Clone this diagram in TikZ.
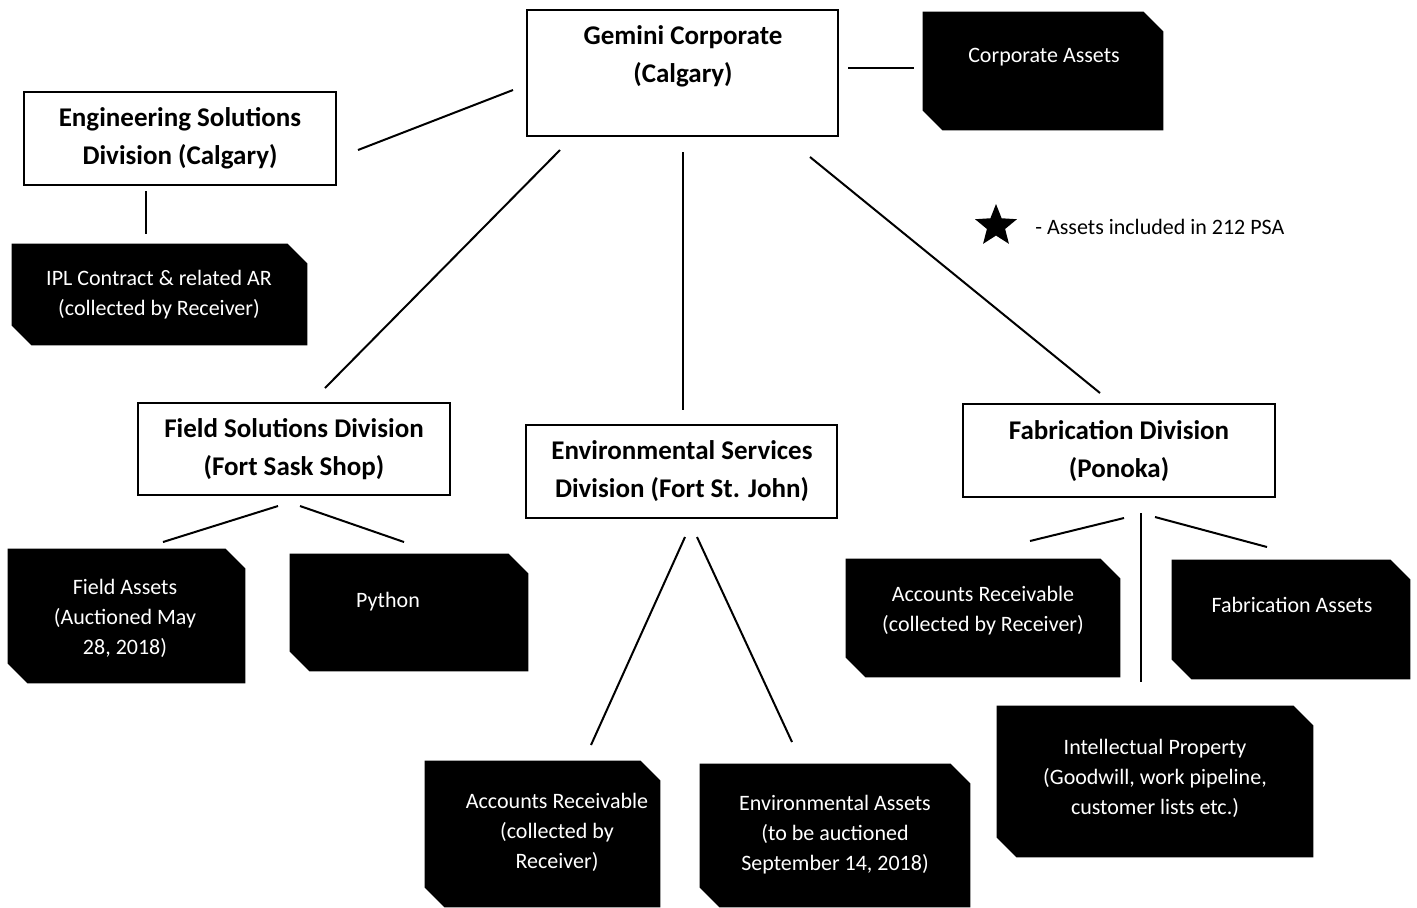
\documentclass[tikz,border=0pt]{standalone}
\usepackage{fontspec}
\setmainfont{Carlito}
\usetikzlibrary{shapes.geometric}
\newcommand\snipfill[1]{\fill[black] (#1.north west) -- ([xshift=-10pt]#1.north east) -- ([yshift=-10pt]#1.north east) -- (#1.south east) -- ([xshift=10pt]#1.south west) -- ([yshift=10pt]#1.south west) -- cycle;}
\begin{document}
\begin{tikzpicture}[x=0.5pt,y=-0.5pt,
  wbox/.style={draw=black, line width=1pt, fill=white, inner sep=0pt},
  bbox/.style={rectangle, draw=none, inner sep=0pt},
  wtext/.style={font=\bfseries\fontsize{13.5}{19}\selectfont, align=center, inner sep=0pt},
  btext/.style={text=white, font=\fontsize{11}{15}\selectfont, align=center, inner sep=0pt},
  conn/.style={line width=1pt, draw=black}]
\useasboundingbox (0,0) rectangle (1417,907);
% white boxes
\node[wbox, minimum width=155.5pt, minimum height=63pt] (gc) at (682.5,73) {};
\node[wtext] (gct) at (683,56) {Gemini Corporate\\(Calgary)};
\node[wbox, minimum width=156pt, minimum height=46.5pt] (eng) at (180,138.5) {};
\node[wtext] (engt) at (180,138) {Engineering Solutions\\Division (Calgary)};
\node[wbox, minimum width=156pt, minimum height=46pt] (fsd) at (294,449) {};
\node[wtext] (fsdt) at (294,449) {Field Solutions Division\\(Fort Sask Shop)};
\node[wbox, minimum width=155.5pt, minimum height=46.5pt] (esd) at (681.5,471.5) {};
\node[wtext] (esdt) at (682,471) {Environmental Services\\Division (Fort St. John)};
\node[wbox, minimum width=156pt, minimum height=46.5pt] (fab) at (1119,450.5) {};
\node[wtext] (fabt) at (1119,451) {Fabrication Division\\(Ponoka)};
% black boxes
\node[bbox, minimum width=120pt, minimum height=59pt] (ca) at (1043,71) {};
\snipfill{ca}
\node[btext] (cat) at (1044,57) {Corporate Assets};
\node[bbox, minimum width=147.5pt, minimum height=50.5pt] (ipl) at (159.5,294.5) {};
\snipfill{ipl}
\node[btext] (iplt) at (159,295) {IPL Contract \& related AR\\(collected by Receiver)};
\node[bbox, minimum width=118.5pt, minimum height=67pt] (fa) at (126.5,616) {};
\snipfill{fa}
\node[btext] (fat) at (125,618) {Field Assets\\(Auctioned May\\28, 2018)};
\node[bbox, minimum width=119pt, minimum height=58.5pt] (py) at (409,612.5) {};
\snipfill{py}
\node[btext] (pyt) at (388,602) {Python};
\node[bbox, minimum width=117.5pt, minimum height=73pt] (ar1) at (542.5,834) {};
\snipfill{ar1}
\node[btext] (ar1t) at (557,832) {Accounts Receivable\\(collected by\\Receiver)};
\node[bbox, minimum width=135pt, minimum height=71.5pt] (ea) at (835,835.5) {};
\snipfill{ea}
\node[btext] (eat) at (835,835) {Environmental Assets\\(to be auctioned\\September 14, 2018)};
\node[bbox, minimum width=137pt, minimum height=59pt] (ar2) at (983,618) {};
\snipfill{ar2}
\node[btext] (ar2t) at (983,611) {Accounts Receivable\\(collected by Receiver)};
\node[bbox, minimum width=119pt, minimum height=59.5pt] (fas) at (1291,619.5) {};
\snipfill{fas}
\node[btext] (fast) at (1292,605) {Fabrication Assets};
\node[bbox, minimum width=158pt, minimum height=75.5pt] (ip) at (1155,781.5) {};
\snipfill{ip}
\node[btext] (ipt) at (1155,778) {Intellectual Property\\(Goodwill, work pipeline,\\customer lists etc.)};
% legend
\node[star, star points=5, star point ratio=2.3, fill=black, inner sep=0pt, minimum size=22pt] (star) at (996,226) {};
\node[font=\fontsize{11}{13}\selectfont, anchor=west, inner sep=0pt] (leg) at (1035,227) {- Assets included in 212 PSA};
% connector end points
\coordinate (c1a) at (848,68);  \coordinate (c1b) at (914,68);
\coordinate (c2a) at (513,90);  \coordinate (c2b) at (358,150);
\coordinate (c3a) at (146,191); \coordinate (c3b) at (146,234);
\coordinate (c4a) at (560,150); \coordinate (c4b) at (325,388);
\coordinate (c5a) at (683,152); \coordinate (c5b) at (683,410);
\coordinate (c6a) at (810,157); \coordinate (c6b) at (1100,393);
\coordinate (c7a) at (278,506); \coordinate (c7b) at (163,542);
\coordinate (c8a) at (300,506); \coordinate (c8b) at (404,542);
\coordinate (c9a) at (685,537); \coordinate (c9b) at (591,745);
\coordinate (c10a) at (697,537); \coordinate (c10b) at (792,742);
\coordinate (c11a) at (1124,518); \coordinate (c11b) at (1030,541);
\coordinate (c12a) at (1141,513); \coordinate (c12b) at (1141,682);
\coordinate (c13a) at (1155,517); \coordinate (c13b) at (1267,547);
\draw[conn] (c1a) -- (c1b);
\draw[conn] (c2a) -- (c2b);
\draw[conn] (c3a) -- (c3b);
\draw[conn] (c4a) -- (c4b);
\draw[conn] (c5a) -- (c5b);
\draw[conn] (c6a) -- (c6b);
\draw[conn] (c7a) -- (c7b);
\draw[conn] (c8a) -- (c8b);
\draw[conn] (c9a) -- (c9b);
\draw[conn] (c10a) -- (c10b);
\draw[conn] (c11a) -- (c11b);
\draw[conn] (c12a) -- (c12b);
\draw[conn] (c13a) -- (c13b);
\end{tikzpicture}
\end{document}
